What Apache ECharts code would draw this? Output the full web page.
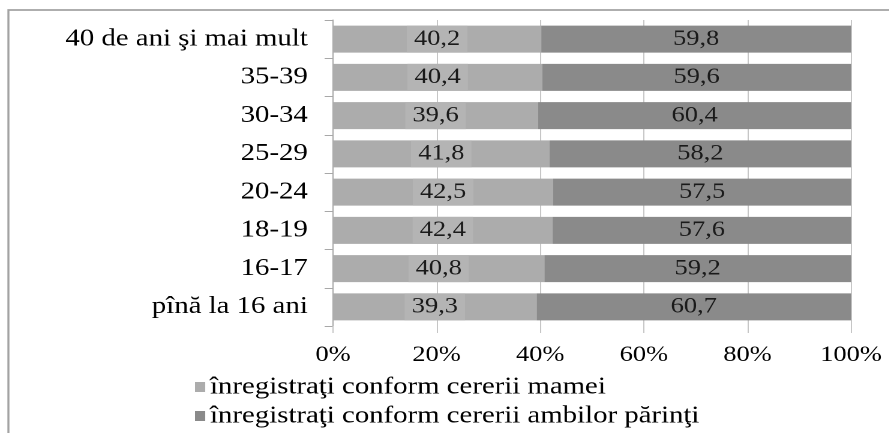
<!DOCTYPE html>
<html>
<head>
<meta charset="utf-8">
<script src="https://cdn.jsdelivr.net/npm/echarts@6/dist/echarts.min.js"></script>
<style>
  html, body { margin: 0; padding: 0; background: #fff; overflow: hidden; }
  /* the original picture is stretched sideways, so draw narrower and stretch */
  #chart { width: 741px; height: 433px; transform: scaleX(1.2); transform-origin: 0 0; }
</style>
</head>
<body>
<div id="chart"></div>
<script>
// categories, top to bottom
var categories = ['40 de ani şi mai mult', '35-39', '30-34', '25-29', '20-24', '18-19', '16-17', 'pînă la 16 ani'];
var seriesNames = ['înregistraţi conform cererii mamei', 'înregistraţi conform cererii ambilor părinţi'];
var mamei = [40.2, 40.4, 39.6, 41.8, 42.5, 42.4, 40.8, 39.3];
var ambii = [59.8, 59.6, 60.4, 58.2, 57.5, 57.6, 59.2, 60.7];
var ticks = [0, 20, 40, 60, 80, 100];

var font = 'Liberation Serif';
var chart = echarts.init(document.getElementById('chart'), null, { renderer: 'canvas', devicePixelRatio: 2 });

function comma(p) {
  return String(p.value).replace('.', ',');
}

chart.setOption({
  backgroundColor: '#fff',
  animation: false,
  textStyle: { fontFamily: font, color: '#000' },
  graphic: [{
    type: 'rect',
    shape: { x: 7, y: 10, width: 1000, height: 1000 },
    style: { fill: 'none', stroke: '#a3a3a3', lineWidth: 1.7 },
    silent: true
  }],
  grid: { left: 277.5, right: 31.8, top: 20, bottom: 107 },
  legend: {
    orient: 'vertical',
    left: 157.5,
    top: 370,
    padding: 5,
    itemWidth: 8.5,
    itemHeight: 10,
    itemGap: 5,
    icon: 'rect',
    textStyle: { fontFamily: font, fontSize: 24, color: '#000', padding: [0, 0, 0, -1] },
    data: seriesNames
  },
  xAxis: {
    type: 'value',
    min: ticks[0],
    max: ticks[ticks.length - 1],
    interval: 20,
    axisLine: { show: false },
    axisTick: { show: true, length: 7, lineStyle: { color: '#c6c6c6' } },
    splitLine: { show: true, lineStyle: { color: '#c6c6c6', width: 1 } },
    axisLabel: { formatter: '{value}%', fontFamily: font, fontSize: 22, color: '#000', margin: 18 }
  },
  yAxis: {
    type: 'category',
    inverse: true,
    data: categories,
    axisLine: { show: true, lineStyle: { color: '#a8a8a8', width: 1 } },
    axisTick: { show: true, length: 7, lineStyle: { color: '#a8a8a8' } },
    axisLabel: { fontFamily: font, fontSize: 24, color: '#000', margin: 21 }
  },
  series: [{
    name: seriesNames[0],
    type: 'bar',
    stack: 'total',
    barWidth: 27,
    data: mamei,
    itemStyle: { color: '#acacac' },
    label: {
      show: true,
      position: 'inside',
      formatter: comma,
      fontFamily: font,
      fontSize: 22,
      color: '#1a1a1a',
      backgroundColor: '#b4b4b4',
      padding: [3, 6, 2, 6]
    }
  }, {
    name: seriesNames[1],
    type: 'bar',
    stack: 'total',
    barWidth: 27,
    data: ambii,
    itemStyle: { color: '#8a8a8a' },
    label: {
      show: true,
      position: 'inside',
      formatter: comma,
      fontFamily: font,
      fontSize: 22,
      color: '#1a1a1a'
    }
  }]
});
</script>
</body>
</html>
